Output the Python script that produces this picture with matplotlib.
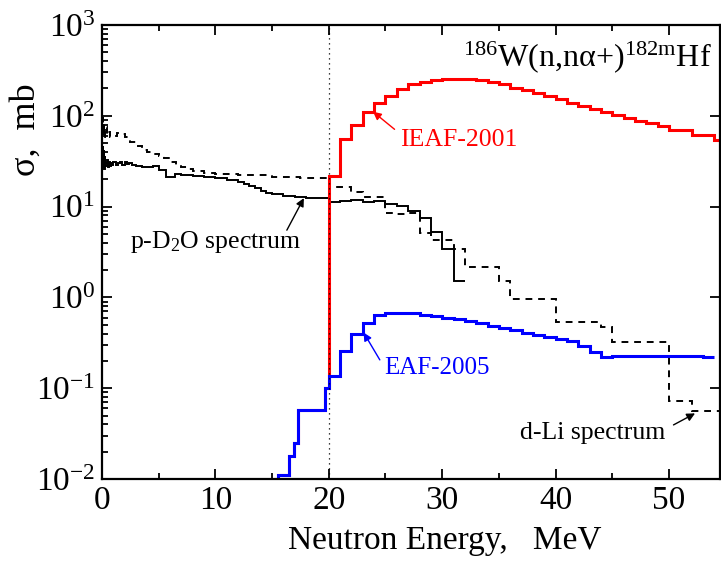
import matplotlib
matplotlib.use("Agg")
import matplotlib.pyplot as plt
from matplotlib.ticker import LogLocator, MultipleLocator

plt.rcParams['font.family'] = ['Liberation Serif', 'DejaVu Serif']
plt.rcParams['mathtext.fontset'] = 'custom'
plt.rcParams['mathtext.rm'] = 'Liberation Serif'
plt.rcParams['mathtext.it'] = 'Liberation Serif:italic'
plt.rcParams['mathtext.bf'] = 'Liberation Serif:bold'

# ---- data ----
# EAF-2005 (blue), group boundaries in MeV and cross section in mb
eaf_edges = [0, 15.5, 16.45, 16.9, 17.3, 19.7, 20, 21, 22, 23, 24, 25, 26, 27, 28,
             29, 30, 31, 32, 33, 34, 35, 36, 37, 38, 39, 40, 41, 42, 43, 44, 45,
             46, 47, 48, 49, 50, 51, 52, 53, 54]
eaf_vals = [1e-4, 0.011, 0.018, 0.025, 0.058, 0.10, 0.137, 0.257, 0.395, 0.526,
            0.64, 0.68, 0.675, 0.665, 0.645, 0.62, 0.60, 0.575, 0.55, 0.519, 0.488,
            0.46, 0.434, 0.41, 0.388, 0.369, 0.348, 0.329, 0.292, 0.248, 0.222,
            0.225, 0.226, 0.227, 0.228, 0.228, 0.228, 0.227, 0.226, 0.218]

# IEAF-2001 (red); below 20 MeV same as EAF
ieaf_edges = [0, 15.5, 16.45, 16.9, 17.3, 19.7, 20, 21, 22, 23, 24, 25, 26, 27, 28,
              29, 30, 31, 32, 33, 34, 35, 36, 37, 38, 39, 40, 41, 42, 43, 44, 45,
              46, 47, 48, 49, 50, 51, 52, 53, 54, 55]
ieaf_vals = [1e-4, 0.011, 0.018, 0.025, 0.058, 0.10,
             22, 55, 80, 109, 139, 166, 196, 222, 238, 248, 254, 256, 254, 246,
             236, 222, 204, 192, 178, 165, 152, 139, 128, 118, 109, 102, 95, 88,
             83, 77, 69, 69, 62, 62, 54]

# p-D2O spectrum (solid black)
pd2o_edges = [0, 0.05, 0.1, 0.15, 0.2, 0.25, 0.3, 0.4, 0.5, 0.6, 0.7, 0.8, 0.9,
              1.0, 1.2, 1.4, 1.6, 1.8, 2.0, 2.2, 2.4, 2.6, 2.8, 3.0, 3.5, 4.0,
              4.5, 5.0, 5.6, 6.4, 7.0, 8.0, 9.0, 10.0, 11.0, 12.0, 12.5, 13.0,
              13.5, 14.0, 14.5, 15.0, 16.0, 17.0, 18.0, 19.0, 20.0, 21, 22, 23,
              24, 25, 26, 27, 28, 29, 30, 31, 32]
pd2o_vals = [30, 47, 27, 42, 26, 36, 28, 33, 27, 31, 28, 30, 29, 31, 29, 30, 31,
             29, 31, 29.5, 30.5, 29, 28.5, 28, 27.5, 27, 28, 25, 21, 23, 22.5,
             22, 21.3, 20.5, 19.5, 18.5, 17.8, 17, 16, 15, 14.3, 13.8, 13.2,
             12.6, 12.3, 12.3, 11.1, 11.5, 11.9, 11.3, 11.6, 10.6, 10.2, 8.95,
             7.4, 5.2, 3.4, 1.52]

# d-Li spectrum (dashed black)
dli_edges = [0, 0.05, 0.1, 0.15, 0.2, 0.3, 0.4, 0.5, 0.7, 1.0, 1.3, 1.6, 2.0,
             2.5, 3.0, 3.5, 4.0, 4.5, 5.0, 5.5, 6.0, 6.5, 7.0, 7.5, 8.0, 9.0,
             10.0, 12.0, 15.0, 17.5, 20, 22, 23, 25, 26, 27, 28, 29, 31, 32, 35,
             36, 40, 44, 45, 50, 52, 55]
dli_vals = [70, 97, 60, 85, 58, 75, 62, 66, 58, 60, 64, 63, 58, 52, 46, 42, 39.5,
            38, 36, 34.5, 31, 29, 27, 26, 24.5, 23.3, 22.7, 22.1, 21.4, 20.5,
            16.6, 14.5, 12.9, 8.6, 8.3, 8.6, 5.1, 4.3, 3.4, 2.14, 1.5, 0.95,
            0.53, 0.47, 0.325, 0.073, 0.056]

fig = plt.figure(figsize=(7.21, 5.61), dpi=100)
ax = fig.add_axes([0.1415, 0.1462, 0.8571, 0.8092])

ax.stairs(pd2o_vals, pd2o_edges, baseline=None, color='black', lw=1.4)
ax.stairs(dli_vals, dli_edges, baseline=None, color='black', lw=1.4,
          linestyle=(0, (3.5, 3)))
ax.axvline(20, color='black', lw=0.9, linestyle=(0, (1, 3)))
ax.stairs(ieaf_vals, ieaf_edges, baseline=None, color='red', lw=2.2)
ax.stairs(eaf_vals, eaf_edges, baseline=None, color='blue', lw=2.2)

ax.set_yscale('log')
ax.set_xlim(0, 54.5)
ax.set_ylim(1e-2, 1e3)

ax.xaxis.set_major_locator(MultipleLocator(10))
ax.xaxis.set_minor_locator(MultipleLocator(5))
ax.yaxis.set_major_locator(LogLocator(base=10, numticks=10))
ax.yaxis.set_minor_locator(LogLocator(base=10, subs=range(2, 10), numticks=10))

ax.tick_params(which='both', direction='in', top=True, right=True,
               labelsize=24, width=1.3)
ax.tick_params(which='major', length=7, pad=5)
ax.tick_params(which='minor', length=4)
ax.tick_params(axis='y', which='minor', right=False)
for s in ax.spines.values():
    s.set_linewidth(1.6)

ax.set_xlabel('Neutron Energy,   MeV', fontsize=24)
ax.xaxis.set_label_coords(0.555, -0.103)
ax.set_ylabel('σ,  mb', fontsize=26, va='center')
ax.yaxis.set_label_coords(-0.122, 0.77)

ax.text(0.987, 0.93, r'$^{186}$W(n,nα+)$^{\mathrm{182m}}$Hf', transform=ax.transAxes,
        ha='right', va='center', fontsize=23)

# labels with arrows
ax.annotate('', xy=(17.8, 12.4), xytext=(16.3, 5.5),
            arrowprops=dict(arrowstyle='-|>', color='black', lw=1.0,
                            mutation_scale=12, shrinkA=0, shrinkB=0))
ax.text(2.5, 4.1, 'p-D$_2$O spectrum', fontsize=18.5, va='center', ha='left')

ax.annotate('', xy=(23.9, 111), xytext=(25.8, 71),
            arrowprops=dict(arrowstyle='-|>', color='red', lw=1.0,
                            mutation_scale=12, shrinkA=0, shrinkB=0))
ax.text(26.3, 54, 'IEAF-2001', fontsize=18.5, color='red', va='center', ha='left')

ax.annotate('', xy=(23.07, 0.41), xytext=(24.5, 0.205),
            arrowprops=dict(arrowstyle='-|>', color='blue', lw=1.0,
                            mutation_scale=12, shrinkA=0, shrinkB=0))
ax.text(24.9, 0.166, 'EAF-2005', fontsize=18, color='blue', va='center', ha='left')

ax.annotate('', xy=(52.3, 0.0528), xytext=(50.4, 0.0394),
            arrowprops=dict(arrowstyle='-|>', color='black', lw=1.0,
                            mutation_scale=12, shrinkA=0, shrinkB=0))
ax.text(36.9, 0.0318, 'd-Li spectrum', fontsize=18.5, va='center', ha='left')

fig.savefig('out.png', dpi=100)
